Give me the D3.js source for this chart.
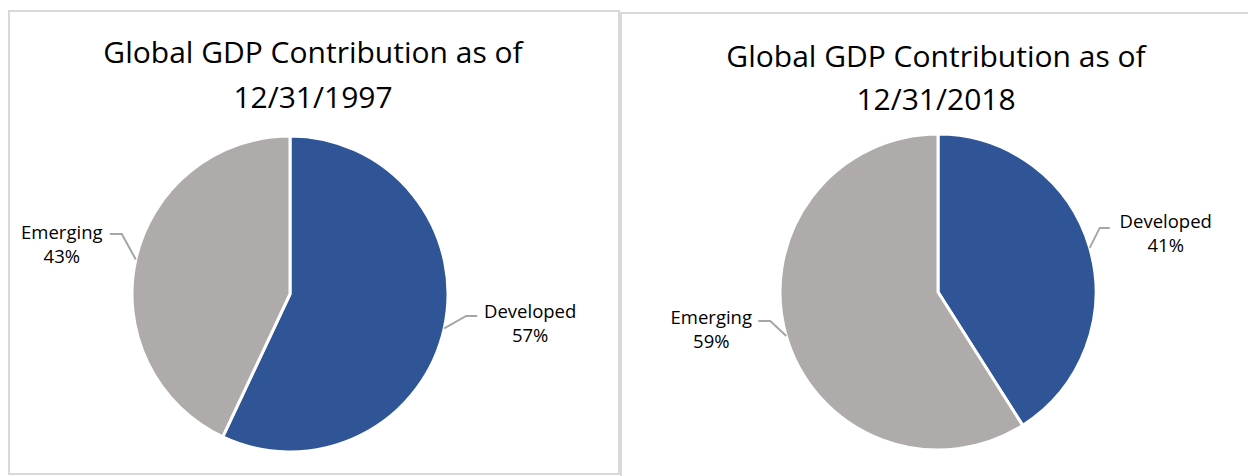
<!DOCTYPE html>
<html>
<head>
<meta charset="utf-8">
<script src="https://cdn.jsdelivr.net/npm/d3@7"></script>
<style>
  body { margin: 0; background: #ffffff; }
  svg { display: block; }
  .title { font-family: "Open Sans", sans-serif; font-size: 30px; fill: #000; }
  .lbl { font-family: "Open Sans", sans-serif; font-size: 18.5px; fill: #000; }
</style>
</head>
<body>
<svg id="chart" width="1248" height="476"></svg>
<script>
// data
const categories = ["Developed", "Emerging"];
const titles = [["Global GDP Contribution as of", "12/31/1997"],
                ["Global GDP Contribution as of", "12/31/2018"]];
const shares1997 = [57, 43];
const shares2018 = [41, 59];

const COLORS = ["#2f5597", "#afabab"];
const BORDER = "#d9d9d9";
const LEADER = "#a6a6a6";

// panel layout
const panels = [
    {x: 9, y: 11, w: 610, h: 463, cx: 290, cy: 294, r: 158, titleX: 313, titleY: [63, 108],
     values: shares1997,
     // leader offsets per category: elbow, end (relative to arc point), text center
     leaders: [
         {ex: 22, ey: -12.5, hx: 33, tx: 86, ty: -10},
         {ex: -14, ey: -25.5, hx: -26, tx: -74, ty: -21}
     ]},
    {x: 621, y: 13, w: 640, h: 470, cx: 938, cy: 292, r: 158, titleX: 936, titleY: [67, 110],
     values: shares2018,
     leaders: [
         {ex: 10, ey: -20, hx: 20, tx: 76, ty: -19.5},
         {ex: -16, ey: -15, hx: -28, tx: -75, ty: -12.5}
     ]}
];

const svg = d3.select("#chart");

const color = d3.scaleOrdinal()
    .domain(categories)
    .range(COLORS);

const pie = d3.pie()
    .sort(null)
    .value(function(d) { return d.value; });

panels.forEach(function(p, pi) {
    const g = svg.append("g");

    g.append("rect")
	.attr("x", p.x)
	.attr("y", p.y)
	.attr("width", p.w)
	.attr("height", p.h)
	.style("fill", "none")
	.style("stroke", BORDER)
	.style("stroke-width", 2);

    g.append("text")
	.attr("class", "title")
	.attr("text-anchor", "middle")
	.selectAll("tspan")
	.data(titles[pi])
	.join("tspan")
	.attr("x", p.titleX)
	.attr("y", function(d, i) { return p.titleY[i]; })
	.text(function(d) { return d; });

    const data = categories.map(function(c, i) { return {cat: c, value: p.values[i]}; });
    const arcs = pie(data);

    const arc = d3.arc()
	.innerRadius(0)
	.outerRadius(p.r);

    const pg = g.append("g")
	.attr("transform", `translate(${p.cx},${p.cy})`);

    pg.selectAll("path")
	.data(arcs)
	.join("path")
	.attr("d", arc)
	.style("fill", function(d) { return color(d.data.cat); })
	.style("stroke", "#ffffff")
	.style("stroke-width", 3)
	.style("stroke-linejoin", "round");

    // labels with leader lines
    arcs.forEach(function(d, i) {
	const mid = (d.startAngle + d.endAngle) / 2;
	const ax = p.r * Math.sin(mid);
	const ay = -p.r * Math.cos(mid);
	const L = p.leaders[i];

	pg.append("polyline")
	    .attr("points", [[ax, ay], [ax + L.ex, ay + L.ey], [ax + L.hx, ay + L.ey]].map(function(q) { return q.join(","); }).join(" "))
	    .style("fill", "none")
	    .style("stroke", LEADER)
	    .style("stroke-width", 2);

	const t = pg.append("text")
	    .attr("class", "lbl")
	    .attr("text-anchor", "middle");
	t.append("tspan")
	    .attr("x", ax + L.tx)
	    .attr("y", ay + L.ty)
	    .text(d.data.cat);
	t.append("tspan")
	    .attr("x", ax + L.tx)
	    .attr("y", ay + L.ty + 24)
	    .text(`${d.data.value}%`);
    });
});
</script>
</body>
</html>
